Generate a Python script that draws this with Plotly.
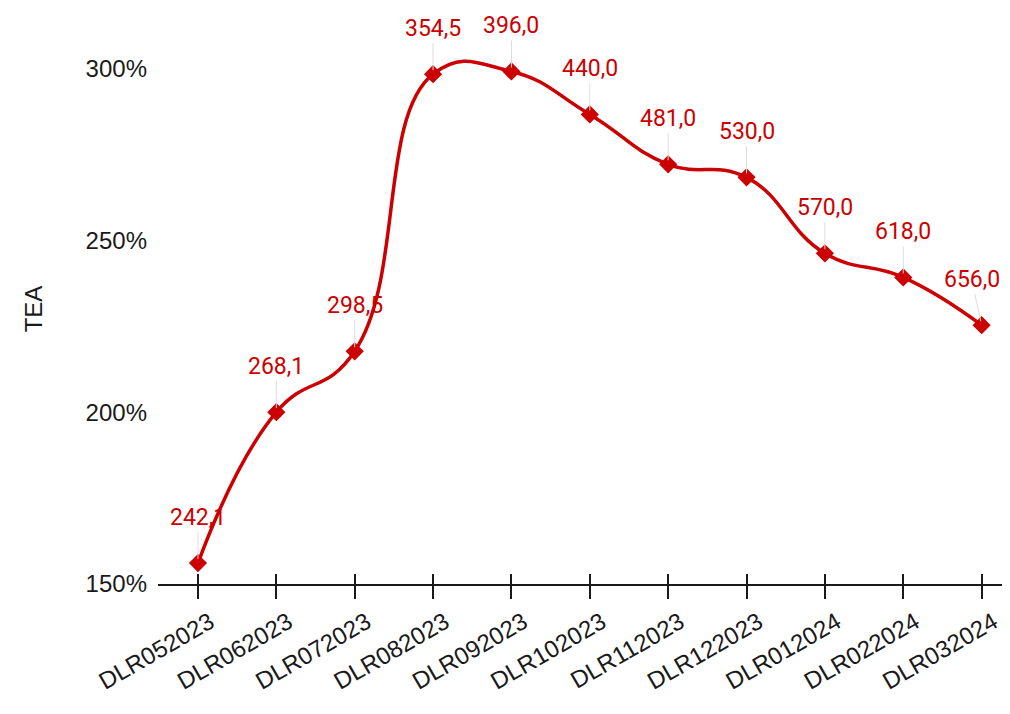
import plotly.graph_objects as go

categories = ["DLR052023", "DLR062023", "DLR072023", "DLR082023", "DLR092023",
              "DLR102023", "DLR112023", "DLR122023", "DLR012024", "DLR022024", "DLR032024"]
tea_pct = [156.1, 200.0, 217.7, 298.3, 299.1, 286.6, 272.1, 268.3, 246.2, 239.2, 225.3]
price_labels = ["242,1", "268,1", "298,5", "354,5", "396,0", "440,0",
                "481,0", "530,0", "570,0", "618,0", "656,0"]
y_ticks = [150, 200, 250, 300]
y_tick_text = ["150%", "200%", "250%", "300%"]

RED = "#cc0000"
INK = "#1a1a1a"
AXIS_FONT = dict(family="Liberation Sans, Arial, sans-serif", size=24, color=INK)

fig = go.Figure()
fig.add_trace(go.Scatter(
    x=categories, y=tea_pct, mode="lines+markers",
    line=dict(color=RED, width=3.5, shape="spline", smoothing=1.3),
    marker=dict(symbol="diamond", size=14, color=RED),
    hoverinfo="skip", showlegend=False,
))
# invisible companion trace so the overlay axis (upper half of the crossing ticks) is drawn
fig.add_trace(go.Scatter(
    x=categories, y=tea_pct, mode="lines", xaxis="x2",
    line=dict(width=0), opacity=0, hoverinfo="skip", showlegend=False,
))

n = len(categories)
for i, (c, v, t) in enumerate(zip(categories, tea_pct, price_labels)):
    fig.add_annotation(
        x=c, y=v, xref="x", yref="y", text=t,
        showarrow=True, arrowhead=0, arrowwidth=1, arrowcolor="#dddddd",
        ax=-10 if i == n - 1 else 0, ay=-46, standoff=4,
        font=dict(family="Roboto", size=23, color=RED),
    )

fig.update_layout(
    width=994, height=698,
    margin=dict(l=150, r=0, t=26, b=122),
    paper_bgcolor="white", plot_bgcolor="white",
    font=AXIS_FONT,
    xaxis=dict(
        type="category", range=[-0.51, 10.26],
        showline=True, linecolor=INK, linewidth=2,
        ticks="outside", ticklen=13, tickwidth=2, tickcolor=INK,
        tickangle=-30, showgrid=False, zeroline=False,
        ticklabelshift=12,
        tickfont=AXIS_FONT,
    ),
    xaxis2=dict(
        type="category", matches="x", overlaying="x", anchor="y", side="bottom",
        ticks="inside", ticklen=10, tickwidth=2, tickcolor=INK,
        showticklabels=False, showline=False, showgrid=False, zeroline=False,
    ),
    yaxis=dict(
        range=[150, 310], tickvals=y_ticks, ticktext=y_tick_text,
        showgrid=False, zeroline=False, showline=False,
        ticklabelstandoff=10,
        title=dict(text="TEA", standoff=36, font=AXIS_FONT),
        tickfont=AXIS_FONT,
    ),
)

fig.write_html("out.html")
